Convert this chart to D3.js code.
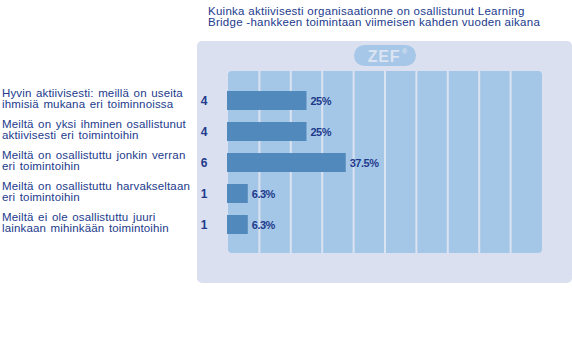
<!DOCTYPE html>
<html><head><meta charset="utf-8">
<script src="https://cdn.jsdelivr.net/npm/d3@7"></script>
<style>html,body{margin:0;padding:0;background:#fff;}svg{display:block;}</style>
</head><body>
<script>
const titleLines = ["Kuinka aktiivisesti organisaationne on osallistunut Learning", "Bridge -hankkeen toimintaan viimeisen kahden vuoden aikana"];
const categories = [
  ["Hyvin aktiivisesti: meillä on useita", "ihmisiä mukana eri toiminnoissa"],
  ["Meiltä on yksi ihminen osallistunut", "aktiivisesti eri toimintoihin"],
  ["Meiltä on osallistuttu jonkin verran", "eri toimintoihin"],
  ["Meiltä on osallistuttu harvakseltaan", "eri toimintoihin"],
  ["Meiltä ei ole osallistuttu juuri", "lainkaan mihinkään toimintoihin"]
];
const counts = [4, 4, 6, 1, 1];
const percents = [25, 25, 37.5, 6.3, 6.3];
const percentLabels = ["25%", "25%", "37.5%", "6.3%", "6.3%"];
const gridTicks = [10, 20, 30, 40, 50, 60, 70, 80, 90];

const W = 572, H = 341;
const textColor = "#223a8c";
const FONT = "Liberation Sans, Arial, sans-serif";
const svg = d3.select("body").append("svg").attr("width", W).attr("height", H);

// title
const title = svg.append("text").attr("x", 208).attr("y", 15)
  .attr("font-family", FONT).attr("font-size", 11.5).attr("letter-spacing", 0.27)
  .attr("fill", textColor);
titleLines.forEach((t, i) => title.append("tspan").attr("x", 208).attr("dy", i ? 11 : 0).text(t));

// outer panel
svg.append("rect").attr("x", 197).attr("y", 41).attr("width", 375).attr("height", 242)
  .attr("rx", 5).attr("fill", "#dae0ef");

// ZEF logo
svg.append("rect").attr("x", 354).attr("y", 45).attr("width", 62).attr("height", 21).attr("rx", 10.5).attr("fill", "#a6c7e7");
svg.append("text").attr("x", 384).attr("y", 61.5).attr("text-anchor", "middle")
  .attr("font-family", FONT).attr("font-weight", "bold").attr("font-size", 16).attr("letter-spacing", 0.8)
  .attr("fill", "#dce4f2").text("ZEF");
svg.append("text").attr("x", 402).attr("y", 54)
  .attr("font-family", FONT).attr("font-weight", "bold").attr("font-size", 7)
  .attr("fill", "#dce4f2").text("®");

const x = d3.scaleLinear().domain([0, 100]).range([228, 542]);
const rows = d3.range(categories.length);
const y = d3.scaleBand().domain(rows).range([85, 240]);
const barH = 19;

// inner plot area
svg.append("rect").attr("x", x(0)).attr("y", 71).attr("width", x(100) - x(0)).attr("height", 182)
  .attr("rx", 4).attr("fill", "#a4c7e7");

// grid lines
svg.append("g").selectAll("rect").data(gridTicks).join("rect")
  .attr("x", d => x(d) - 1).attr("y", 71).attr("width", 2).attr("height", 182).attr("fill", "#dbe2f0");

// bars
svg.append("g").selectAll("rect").data(rows).join("rect")
  .attr("x", x(0) - 1).attr("y", i => y(i) + (y.bandwidth() - barH) / 2)
  .attr("width", i => x(percents[i]) - x(0) + 1).attr("height", barH).attr("fill", "#5289bc");

// value labels
svg.append("g").selectAll("text").data(rows).join("text")
  .attr("x", i => x(percents[i]) + 4).attr("y", i => y(i) + y.bandwidth() / 2 + 4)
  .attr("font-family", FONT).attr("font-weight", "bold").attr("font-size", 11)
  .attr("letter-spacing", -0.5).attr("fill", textColor).text(i => percentLabels[i]);

// counts
svg.append("g").selectAll("text").data(rows).join("text")
  .attr("x", 204).attr("y", i => y(i) + y.bandwidth() / 2 + 4.5).attr("text-anchor", "middle")
  .attr("font-family", FONT).attr("font-weight", "bold").attr("font-size", 12)
  .attr("fill", textColor).text(i => counts[i]);

// category labels
const lab = svg.append("g").selectAll("text").data(rows).join("text")
  .attr("x", 2).attr("y", i => y(i) + y.bandwidth() / 2 - 3.5)
  .attr("font-family", FONT).attr("font-size", 11.5).attr("letter-spacing", 0.15).attr("word-spacing", 1.2)
  .attr("fill", textColor);
lab.each(function(i) {
  const t = d3.select(this);
  categories[i].forEach((line, j) => t.append("tspan").attr("x", 2).attr("dy", j ? 11 : 0).text(line));
});
</script>
</body></html>
